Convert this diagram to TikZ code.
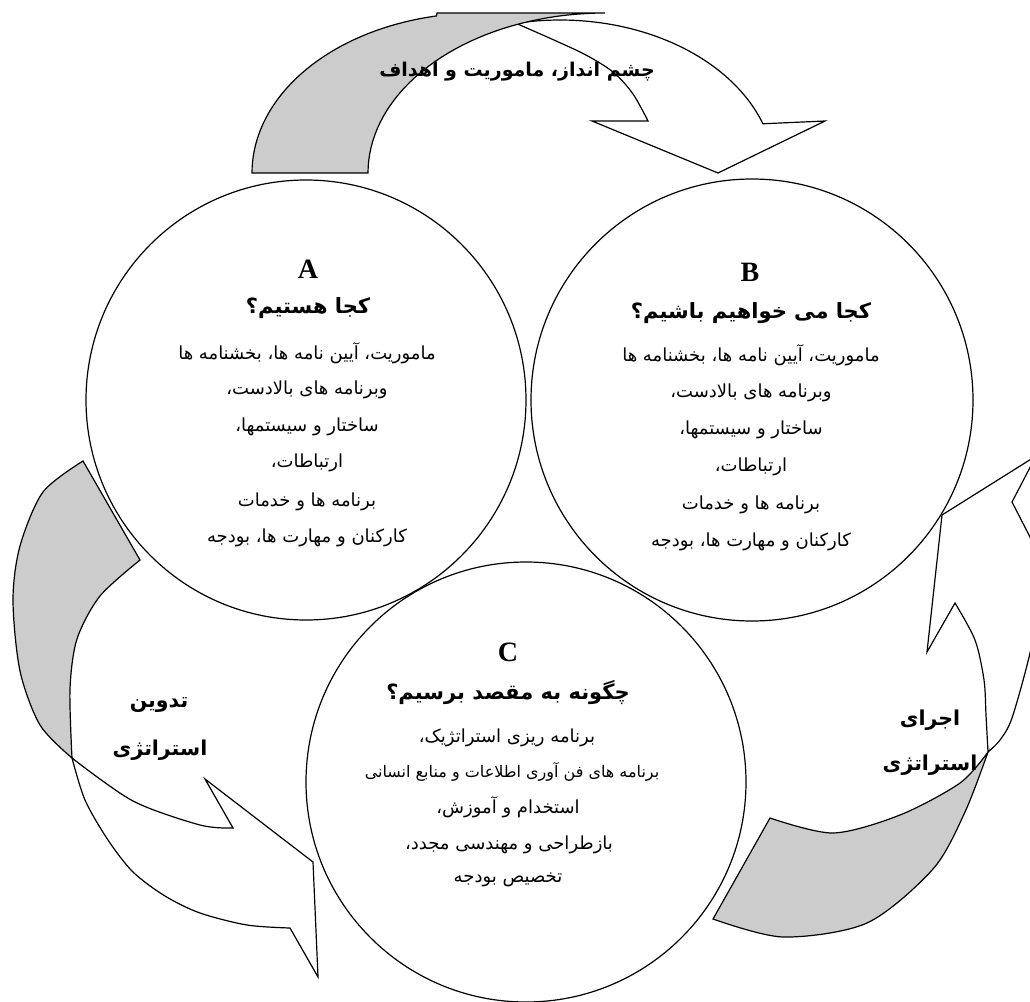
\documentclass[tikz,border=0pt]{standalone}
\usepackage{fontspec}
\setmainfont{Liberation Serif}
\newfontfamily\prsfont[Script=Arabic]{DejaVu Sans}
\TeXXeTstate=1
\newcommand\prs[1]{{\prsfont\beginR #1\endR}}
\definecolor{bandgray}{HTML}{CCCCCC}
\begin{document}
\begin{tikzpicture}[x=1pt,y=-1pt,
  edge/.style={draw=black,line width=1.2pt,line join=miter},
  ring/.style={circle,draw=black,line width=1.2pt,minimum size=#1,inner sep=0pt},
  bodytxt/.style={font=\fontsize{18}{20}\selectfont,inner sep=0pt},
  smalltxt/.style={font=\fontsize{16}{18}\selectfont,inner sep=0pt},
  headtxt/.style={font=\fontsize{21}{24}\selectfont\bfseries,inner sep=0pt},
  lettertxt/.style={font=\fontsize{28}{30}\selectfont\bfseries,inner sep=0pt},
  toptxt/.style={font=\fontsize{19}{22}\selectfont\bfseries,inner sep=0pt},
  sidetxt/.style={font=\fontsize{20.5}{23}\selectfont\bfseries,inner sep=0pt},
]
\useasboundingbox (0,0) rectangle (1030,1001);
\fill[white] (0,0) rectangle (1030,1001);
\begin{scope}
\clip (0,0) rectangle (1030,1001);
% ---------- top arrow ----------
\path[edge,fill=white] plot[domain=103:19.3,samples=50,variable=\t] ({560+215*cos(\t)},{175-155*sin(\t)})
  -- (825,121) -- (718,173) -- (592,121) -- (648,121)
  -- plot[smooth] coordinates {(648,121) (633,94) (613,72) (580,52) (513,22)} -- cycle;
\path[edge,fill=bandgray] plot[domain=180:101,samples=40,variable=\t] ({480+228*cos(\t)},{173-160*sin(\t)})
  -- (437,13) -- (605,13)
  -- plot[domain=90:180,samples=40,variable=\t] ({605+237*cos(\t)},{173-160*sin(\t)}) -- cycle;
% ---------- left arrow ----------
\path[edge,fill=white] plot[smooth] coordinates {(72,758) (85,800) (108,840) (133,872) (165,896) (200,913) (247,925) (290,928)}
  -- (318,977) -- (313,862) -- (205,779) -- (233,828)
  -- plot[smooth] coordinates {(233,828) (200,825) (133,801) (72,758)} -- cycle;
\path[edge,fill=bandgray] (83,461) -- (140,560)
  -- plot[smooth] coordinates {(140,560) (100,596) (77,639) (70,689) (72,758)}
  -- plot[smooth] coordinates {(72,758) (40,725) (20,671) (13,600) (20,546) (43,492) (83,461)} -- cycle;
% ---------- right arrow ----------
\path[edge,fill=white] plot[smooth] coordinates {(988,752) (1000,740) (1012,718) (1030,653) (1040,595) (1030,537)}
  -- (1012,502) -- (1036,456) -- (942,515) -- (927,652) -- (955,603)
  -- plot[smooth] coordinates {(955,603) (975,640) (984,680) (986,715) (988,752)} -- cycle;
\path[edge,fill=bandgray] (713,919) -- (770,818)
  -- plot[smooth] coordinates {(770,818) (833,833) (900,815) (960,783) (988,752)}
  -- plot[smooth] coordinates {(988,752) (965,812) (933,869) (867,923) (783,937) (713,919)} -- cycle;
\end{scope}
% ---------- circles ----------
\node[ring=440pt] (circA) at (306,400) {};
\node[ring=442pt] (circB) at (752,400) {};
\node[ring=440pt] (circC) at (526,782) {};
% ---------- texts ----------
\node[toptxt] (ttop) at (517,72) {\prs{چشم انداز، ماموریت و اهداف}};
\node[lettertxt] (aL) at (308,269) {A};
\node[headtxt] (aH) at (308,308) {\prs{کجا هستیم؟}};
\node[bodytxt] (a1) at (307,353) {\prs{ماموریت،  آیین نامه ها، بخشنامه ها}};
\node[bodytxt] (a2) at (307,390) {\prs{وبرنامه های بالادست،}};
\node[bodytxt] (a3) at (307,427) {\prs{ساختار و سیستمها،}};
\node[bodytxt] (a4) at (307,463) {\prs{ارتباطات،}};
\node[bodytxt] (a5) at (307,502) {\prs{برنامه ها و خدمات}};
\node[bodytxt] (a6) at (307,538) {\prs{کارکنان و مهارت ها، بودجه}};
\node[lettertxt] (bL) at (750,272) {B};
\node[headtxt] (bH) at (751,313) {\prs{کجا می خواهیم باشیم؟}};
\node[bodytxt] (b1) at (751,355) {\prs{ماموریت،  آیین نامه ها، بخشنامه ها}};
\node[bodytxt] (b2) at (751,393) {\prs{وبرنامه های بالادست،}};
\node[bodytxt] (b3) at (751,430) {\prs{ساختار و سیستمها،}};
\node[bodytxt] (b4) at (751,467) {\prs{ارتباطات،}};
\node[bodytxt] (b5) at (751,505) {\prs{برنامه ها و خدمات}};
\node[bodytxt] (b6) at (751,542) {\prs{کارکنان و مهارت ها، بودجه}};
\node[lettertxt] (cL) at (508,652) {C};
\node[headtxt] (cH) at (508,693) {\prs{چگونه به مقصد برسیم؟}};
\node[bodytxt] (c1) at (507,738) {\prs{برنامه ریزی استراتژیک،}};
\node[smalltxt] (c2) at (512,772) {\prs{برنامه های فن آوری اطلاعات و منابع انسانی}};
\node[bodytxt] (c3) at (508,807) {\prs{استخدام و آموزش،}};
\node[bodytxt] (c4) at (509,845) {\prs{بازطراحی و مهندسی مجدد،}};
\node[bodytxt] (c5) at (508,880) {\prs{تخصیص بودجه}};
\node[sidetxt] (l1) at (159,705) {\prs{تدوین}};
\node[sidetxt] (l2) at (160,750) {\prs{استراتژی}};
\node[sidetxt] (r1) at (930,720) {\prs{اجرای}};
\node[sidetxt] (r2) at (930,765) {\prs{استراتژی}};
\end{tikzpicture}
\end{document}
